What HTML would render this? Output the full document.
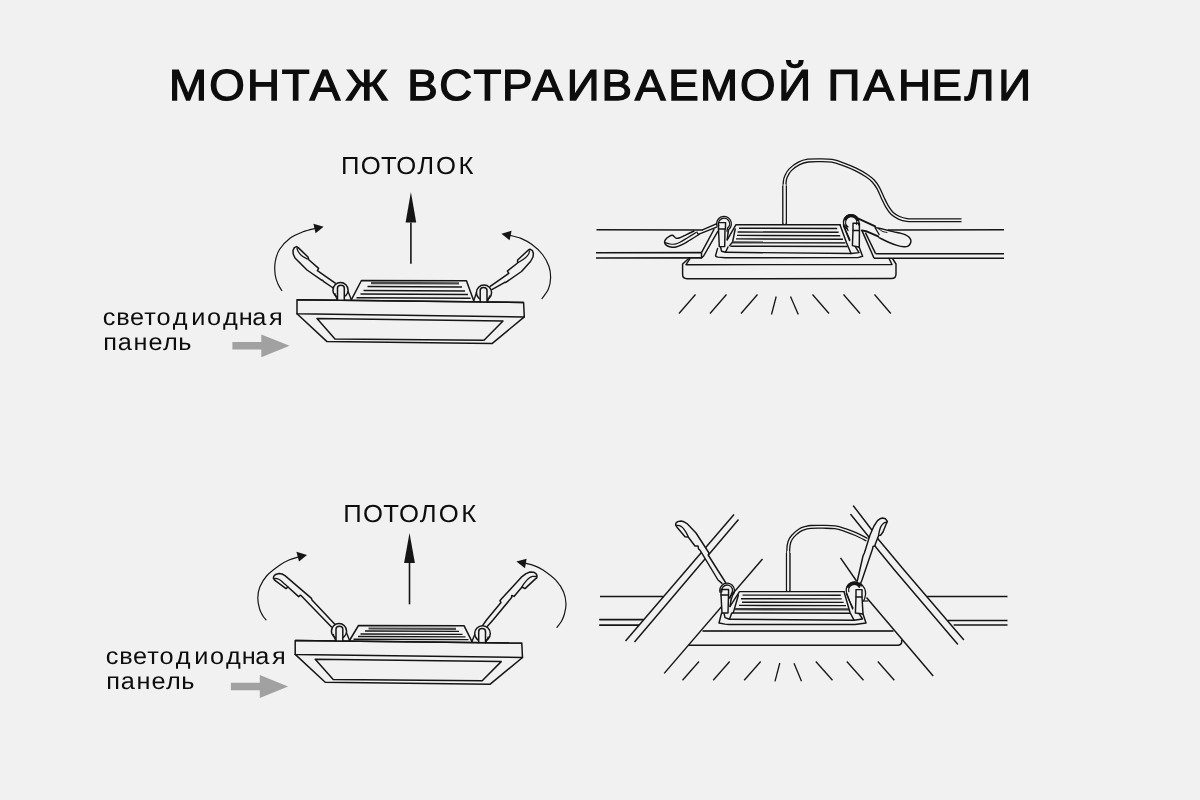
<!DOCTYPE html>
<html lang="ru">
<head>
<meta charset="utf-8">
<title>Монтаж встраиваемой панели</title>
<style>
html,body{margin:0;padding:0;background:#f1f1f1;}
body{width:1200px;height:800px;overflow:hidden;position:relative;font-family:"Liberation Sans",sans-serif;}
svg{position:absolute;left:0;top:0;display:block;will-change:transform;}
text{font-family:"Liberation Sans",sans-serif;fill:#0d0d0d;text-rendering:geometricPrecision;}
path,circle{stroke-linecap:round;stroke-linejoin:round;}
line{stroke-linecap:butt;}
</style>
</head>
<body>
<svg width="1200" height="800" viewBox="0 0 1200 800">
<rect x="0" y="0" width="1200" height="800" fill="#f1f1f1"/>
<g id="labels">

<text transform="scale(1.05,1)" x="161.05 199.33 235.33 268.27 295.06 329.32 369.49 387.83 418.25 450.89 478.00 506.92 539.72 572.95 604.85 636.41 666.76 704.83 741.20 772.47 788.18 822.45 855.28 887.26 918.59 950.70" y="100.2" font-size="43.5" stroke="#0d0d0d" stroke-width="1.35">МОНТАЖ ВСТРАИВАЕМОЙ ПАНЕЛИ</text>
<g transform="scale(1.04,1)">
<text x="327.93 346.79 366.31 380.93 401.16 419.25 440.90" y="173.8" font-size="24.7">ПОТОЛОК</text>
<text x="330.04 349.05 368.42 383.67 403.66 421.79 443.50" y="522.4" font-size="24.7">ПОТОЛОК</text>
</g>
<g transform="scale(1.06,1)">
<text x="97.04 109.62 122.62 136.04 147.60 162.93 180.35 195.24 210.33 225.24 237.89 253.69" y="324.5" font-size="23.9">светодиодная</text>
<text x="97.30 111.01 125.95 140.08 153.70 168.20" y="350" font-size="23.9">панель</text>
<text x="99.87 112.45 125.45 138.87 150.43 165.76 183.18 198.07 213.16 228.07 240.72 256.52" y="663.7" font-size="23.9">светодиодная</text>
<text x="100.13 113.84 128.78 142.91 156.53 171.03" y="689.4" font-size="23.9">панель</text>
</g>
<path d="M232.40,342.10 L261.30,342.10 L261.30,334.40 L289.60,345.80 L261.30,357.20 L261.30,349.60 L232.40,349.60 Z" fill="#a1a1a1" stroke="none"/>
<path d="M230.90,682.80 L259.80,682.80 L259.80,675.10 L288.10,686.50 L259.80,697.90 L259.80,690.30 L230.90,690.30 Z" fill="#a1a1a1" stroke="none"/>

</g>
<g id="diagram-1">
<path d="M333.20,288.00 L323.40,281.40 L322.60,280.30 L321.60,280.20 L307.00,270.00 L295.00,258.00 L293.20,254.00 L293.00,250.50 L294.30,247.60 L296.60,246.60 L298.20,247.60 L308.00,257.00 L308.80,259.80 L318.60,268.40 L317.40,270.60 L335.20,283.20" fill="#f1f1f1" stroke="#151515" stroke-width="1.5" />
<path d="M297.00,248.20 C297.20,248.75 297.45,250.28 298.20,251.50 C298.95,252.72 299.97,254.25 301.50,255.50 C303.03,256.75 306.42,258.42 307.40,259.00" fill="none" stroke="#151515" stroke-width="1.3" />
<path d="M491.80,289.60 L503.50,283.20 L504.60,282.20 L505.80,282.40 L521.50,271.50 L530.50,261.50 L533.00,257.00 L533.40,253.50 L532.40,250.60 L530.00,249.20 L528.40,250.00 L517.60,260.00 L517.60,263.00 L507.40,271.00 L508.80,273.40 L490.20,286.40" fill="#f1f1f1" stroke="#151515" stroke-width="1.5" />
<path d="M529.60,250.80 C529.43,251.33 529.28,252.83 528.60,254.00 C527.92,255.17 527.20,256.40 525.50,257.80 C523.80,259.20 519.58,261.63 518.40,262.40" fill="none" stroke="#151515" stroke-width="1.3" />
<path d="M297.00,313.80 L327.00,341.60 L492.00,343.60 L524.30,316.90" fill="none" stroke="#151515" stroke-width="1.5" />
<path d="M317.00,318.60 L503.00,321.00 L484.00,340.20 L335.00,339.00 Z" fill="none" stroke="#151515" stroke-width="1.5" />
<path d="M297.00,299.80 L523.60,302.50 L524.30,316.90 L297.00,313.80 Z" fill="none" stroke="#151515" stroke-width="1.5" />
<path d="M351.30,299.90 L361.42,280.50 L466.44,280.70 L473.80,301.00" fill="none" stroke="#151515" stroke-width="1.5" />
<line x1="371" y1="283.0" x2="459" y2="283.4" stroke="#4a4a4a" stroke-width="2.3"/>
<line x1="367.5" y1="286.6" x2="462" y2="287.0" stroke="#151515" stroke-width="1.5"/>
<line x1="363.5" y1="290.6" x2="465" y2="291.0" stroke="#151515" stroke-width="1.5"/>
<line x1="360.5" y1="294.1" x2="468" y2="294.5" stroke="#151515" stroke-width="1.5"/>
<line x1="356.5" y1="297.8" x2="470.5" y2="298.2" stroke="#151515" stroke-width="1.5"/>
<line x1="347.2" y1="289.5" x2="351.3" y2="299.6" stroke="#151515" stroke-width="1.4"/>
<line x1="477.6" y1="289.5" x2="473.8" y2="300.6" stroke="#151515" stroke-width="1.4"/>
<path d="M332.9,290.2 a7.6,7.6 0 1 0 15.2,0 a7.6,7.6 0 1 0 -15.2,0" fill="#f1f1f1" stroke="#151515" stroke-width="1.5" />
<path d="M337.50,300.30 L337.50,288.00 Q337.50,285.20 340.90,285.20 Q344.30,285.20 344.30,288.00 L344.30,300.30" fill="#f1f1f1" stroke="#151515" stroke-width="1.5" />
<path d="M334.90,293.40 Q335.90,297.20 337.30,300.30" fill="none" stroke="#151515" stroke-width="1.2" />
<path d="M476.4,292.6 a7.6,7.6 0 1 0 15.2,0 a7.6,7.6 0 1 0 -15.2,0" fill="#f1f1f1" stroke="#151515" stroke-width="1.5" />
<path d="M480.20,302.00 L480.20,290.40 Q480.20,287.60 483.60,287.60 Q487.00,287.60 487.00,290.40 L487.00,302.00" fill="#f1f1f1" stroke="#151515" stroke-width="1.5" />
<path d="M489.60,295.80 Q488.60,299.60 487.20,302.00" fill="none" stroke="#151515" stroke-width="1.2" />
<line x1="297" y1="299.8" x2="523.6" y2="302.5" stroke="#151515" stroke-width="1.5"/>
<path d="M316.00,228.20 C313.83,228.80 307.33,230.13 303.00,231.80 C298.67,233.47 293.92,235.25 290.00,238.20 C286.08,241.15 281.97,245.53 279.50,249.50 C277.03,253.47 275.92,257.75 275.20,262.00 C274.48,266.25 274.73,271.33 275.20,275.00 C275.67,278.67 276.90,281.42 278.00,284.00 C279.10,286.58 281.17,289.42 281.80,290.50" fill="none" stroke="#151515" stroke-width="1.2" />
<path d="M313.40,223.80 L323.60,226.80 L315.60,233.20 Z" fill="#151515" stroke="none"/>
<path d="M509.50,235.20 C511.42,235.73 517.25,236.83 521.00,238.40 C524.75,239.97 528.42,241.92 532.00,244.60 C535.58,247.28 539.67,250.85 542.50,254.50 C545.33,258.15 547.65,262.58 549.00,266.50 C550.35,270.42 550.70,274.25 550.60,278.00 C550.50,281.75 549.83,285.57 548.40,289.00 C546.97,292.43 543.07,297.00 542.00,298.60" fill="none" stroke="#151515" stroke-width="1.2" />
<path d="M501.40,233.70 L511.60,230.80 L509.60,240.20 Z" fill="#151515" stroke="none"/>
<path d="M410.90,192.00 L405.60,222.50 L416.20,222.50 Z" fill="#151515" stroke="none"/><line x1="410.9" y1="222.5" x2="410.9" y2="263.8" stroke="#151515" stroke-width="1.6"/>
</g>
<g id="diagram-2">
<line x1="596.5" y1="229.7" x2="702.5" y2="229.9" stroke="#151515" stroke-width="1.45"/>
<line x1="596" y1="252.7" x2="701.5" y2="252.6" stroke="#151515" stroke-width="1.65"/>
<line x1="596" y1="258" x2="701.5" y2="257.9" stroke="#151515" stroke-width="1.65"/>
<line x1="701.5" y1="252.6" x2="701.5" y2="257.9" stroke="#151515" stroke-width="1.45"/>
<line x1="701.5" y1="252.6" x2="714.2" y2="229" stroke="#151515" stroke-width="1.45"/>
<path d="M701.50,257.90 L703.60,256.00 L717.80,231.40" fill="none" stroke="#151515" stroke-width="1.45" />
<line x1="888" y1="229.9" x2="1004" y2="229.8" stroke="#151515" stroke-width="1.45"/>
<line x1="875.6" y1="253.7" x2="1004" y2="253.7" stroke="#151515" stroke-width="1.65"/>
<line x1="874" y1="258.2" x2="1004" y2="258.2" stroke="#151515" stroke-width="1.65"/>
<line x1="862" y1="230.6" x2="874" y2="258.1" stroke="#151515" stroke-width="1.45"/>
<line x1="865.4" y1="232.6" x2="875.6" y2="253.6" stroke="#151515" stroke-width="1.45"/>
<path d="M784.60,224.00 C784.60,220.00 784.58,207.00 784.60,200.00 C784.62,193.00 784.37,186.10 784.70,182.00 C785.03,177.90 785.65,177.47 786.60,175.40 C787.55,173.33 788.33,171.60 790.40,169.60 C792.47,167.60 796.07,164.90 799.00,163.40 C801.93,161.90 804.50,161.13 808.00,160.60 C811.50,160.07 816.00,160.17 820.00,160.20 C824.00,160.23 828.07,160.10 832.00,160.80 C835.93,161.50 839.67,162.97 843.60,164.40 C847.53,165.83 851.77,167.53 855.60,169.40 C859.43,171.27 863.67,173.67 866.60,175.60 C869.53,177.53 871.27,178.93 873.20,181.00 C875.13,183.07 876.63,185.23 878.20,188.00 C879.77,190.77 881.13,194.53 882.60,197.60 C884.07,200.67 885.43,203.80 887.00,206.40 C888.57,209.00 890.00,211.30 892.00,213.20 C894.00,215.10 896.50,216.67 899.00,217.80 C901.50,218.93 903.83,219.60 907.00,220.00 C910.17,220.40 908.92,220.17 918.00,220.20 C927.08,220.23 954.25,220.20 961.50,220.20" fill="none" stroke="#151515" stroke-width="4.1" style="stroke-linecap:butt"/>
<path d="M784.6,225 L784.6,186" fill="none" stroke="#151515" stroke-width="4.7" style="stroke-linecap:butt"/>
<path d="M784.60,224.00 C784.60,220.00 784.58,207.00 784.60,200.00 C784.62,193.00 784.37,186.10 784.70,182.00 C785.03,177.90 785.65,177.47 786.60,175.40 C787.55,173.33 788.33,171.60 790.40,169.60 C792.47,167.60 796.07,164.90 799.00,163.40 C801.93,161.90 804.50,161.13 808.00,160.60 C811.50,160.07 816.00,160.17 820.00,160.20 C824.00,160.23 828.07,160.10 832.00,160.80 C835.93,161.50 839.67,162.97 843.60,164.40 C847.53,165.83 851.77,167.53 855.60,169.40 C859.43,171.27 863.67,173.67 866.60,175.60 C869.53,177.53 871.27,178.93 873.20,181.00 C875.13,183.07 876.63,185.23 878.20,188.00 C879.77,190.77 881.13,194.53 882.60,197.60 C884.07,200.67 885.43,203.80 887.00,206.40 C888.57,209.00 890.00,211.30 892.00,213.20 C894.00,215.10 896.50,216.67 899.00,217.80 C901.50,218.93 903.83,219.60 907.00,220.00 C910.17,220.40 908.92,220.17 918.00,220.20 C927.08,220.23 954.25,220.20 961.50,220.20" fill="none" stroke="#f1f1f1" stroke-width="1.5" style="stroke-linecap:square"/>
<path d="M784.6,223.4 L784.6,184" fill="none" stroke="#f1f1f1" stroke-width="2.1" style="stroke-linecap:butt"/>
<path d="M694.00,231.00 C692.67,231.63 688.50,233.63 686.00,234.80 C683.50,235.97 680.67,237.43 679.00,238.00 C677.33,238.57 677.08,238.65 676.00,238.20 C674.92,237.75 673.75,235.53 672.50,235.30 C671.25,235.07 669.58,236.18 668.50,236.80 C667.42,237.42 666.65,238.20 666.00,239.00 C665.35,239.80 664.73,240.77 664.60,241.60 C664.47,242.43 664.72,243.27 665.20,244.00 C665.68,244.73 666.37,245.47 667.50,246.00 C668.63,246.53 670.58,247.03 672.00,247.20 C673.42,247.37 674.50,247.33 676.00,247.00 C677.50,246.67 678.67,246.37 681.00,245.20 C683.33,244.03 687.25,241.62 690.00,240.00 C692.75,238.38 696.00,236.47 697.50,235.50 C699.00,234.53 698.75,234.42 699.00,234.20" fill="#f1f1f1" stroke="#151515" stroke-width="1.45" />
<path d="M665.00,242.60 C665.83,242.83 668.33,243.75 670.00,244.00 C671.67,244.25 673.33,244.40 675.00,244.10 C676.67,243.80 677.83,243.32 680.00,242.20 C682.17,241.08 685.33,239.00 688.00,237.40 C690.67,235.80 694.67,233.40 696.00,232.60" fill="none" stroke="#151515" stroke-width="1.2" />
<line x1="696.6" y1="231.6" x2="698.6" y2="235" stroke="#151515" stroke-width="1.2"/>
<path d="M702.50,229.90 L716.30,223.80" fill="none" stroke="#151515" stroke-width="1.45" />
<path d="M699.00,234.20 L716.60,227.20" fill="none" stroke="#151515" stroke-width="1.45" />
<path d="M727.20,239.80 L736.00,224.60 L840.00,224.80" fill="none" stroke="#151515" stroke-width="1.45" />
<path d="M735.20,229.00 L732.60,242.00 L729.60,245.60" fill="none" stroke="#151515" stroke-width="1.45" />
<line x1="739" y1="228.2" x2="837.2" y2="228.5" stroke="#151515" stroke-width="1.4"/>
<line x1="737.6" y1="232" x2="838.6" y2="232.3" stroke="#151515" stroke-width="1.4"/>
<line x1="737" y1="235.4" x2="840.2" y2="235.70000000000002" stroke="#151515" stroke-width="1.4"/>
<line x1="736" y1="238.9" x2="843" y2="239.20000000000002" stroke="#151515" stroke-width="1.4"/>
<line x1="732.6" y1="242.4" x2="845.4" y2="242.70000000000002" stroke="#3c3c3c" stroke-width="2.2"/>
<line x1="730.4" y1="246.2" x2="847.6" y2="246.5" stroke="#151515" stroke-width="1.4"/>
<path d="M840.00,224.80 L846.60,243.00 L848.00,246.20 L851.00,253.50" fill="none" stroke="#151515" stroke-width="1.45" />
<path d="M843.60,226.00 L849.60,240.60" fill="none" stroke="#151515" stroke-width="1.45" />
<path d="M725.5,252.3 L851,253.5" fill="none" stroke="#151515" stroke-width="1.45" />
<path d="M717.6,248.4 L715.6,255.4 Q715.6,256.8 718,257.1 L725,257.7 L858,257.6 L862.6,256.3 L859.2,247.2" fill="none" stroke="#151515" stroke-width="1.45" />
<path d="M720.50,246.80 L721.60,251.20 L725.50,252.30 L728.00,247.00" fill="none" stroke="#151515" stroke-width="1.45" />
<path d="M855.00,246.20 L859.00,252.60 L851.00,253.50" fill="none" stroke="#151515" stroke-width="1.45" />
<path d="M718.50,229.00 L719.30,246.60 L724.70,246.60 L725.00,229.00" fill="#f1f1f1" stroke="#151515" stroke-width="1.45" />
<path d="M725.40,229.00 L718.50,229.00 L718.50,222.60 L725.60,222.60 Z" fill="#f1f1f1" stroke="#151515" stroke-width="1.45" />
<path d="M717.05,226.33 A7.4,7.4 0 1 1 728.76,229.47 L728.00,233.00" fill="none" stroke="#151515" stroke-width="1.3" />
<path d="M718.74,225.72 A5.6,5.6 0 1 1 727.60,228.09 L727.00,231.40" fill="none" stroke="#151515" stroke-width="1.3" />
<path d="M728.00,233.00 L727.20,239.80" fill="none" stroke="#151515" stroke-width="1.45" />
<path d="M853.00,230.40 L852.40,245.60 L859.30,247.20 L859.40,230.40" fill="#f1f1f1" stroke="#151515" stroke-width="1.45" />
<path d="M853.00,230.40 L859.40,230.40 L859.40,223.20 L853.00,223.20 Z" fill="#f1f1f1" stroke="#151515" stroke-width="1.45" />
<path d="M846.75,228.65 A7.75,7.75 0 1 1 858.48,224.95" fill="none" stroke="#151515" stroke-width="1.3" />
<path d="M847.99,226.89 A5.6,5.6 0 1 1 856.46,224.22" fill="none" stroke="#151515" stroke-width="1.3" />
<path d="M845,219.3 A6.7,6.7 0 0 1 857.4,219.7" fill="none" stroke="#151515" stroke-width="2.6"/>
<path d="M843.40,224.60 L846.00,231.00 L849.80,239.60" fill="none" stroke="#151515" stroke-width="1.3" />
<path d="M845.60,225.00 L848.00,230.60" fill="none" stroke="#151515" stroke-width="1.3" />
<path d="M876.00,227.60 C877.33,227.90 881.17,228.73 884.00,229.40 C886.83,230.07 890.17,230.93 893.00,231.60 C895.83,232.27 899.00,232.90 901.00,233.40 C903.00,233.90 903.73,234.03 905.00,234.60 C906.27,235.17 907.63,235.90 908.60,236.80 C909.57,237.70 910.50,238.90 910.80,240.00 C911.10,241.10 910.87,242.37 910.40,243.40 C909.93,244.43 909.07,245.63 908.00,246.20 C906.93,246.77 905.83,246.93 904.00,246.80 C902.17,246.67 899.67,246.20 897.00,245.40 C894.33,244.60 891.00,243.30 888.00,242.00 C885.00,240.70 880.50,238.33 879.00,237.60" fill="#f1f1f1" stroke="#151515" stroke-width="1.45" />
<path d="M858.40,218.60 L875.20,226.40" fill="none" stroke="#151515" stroke-width="1.9" />
<path d="M861.80,230.40 L866.00,231.20 L878.20,236.40" fill="none" stroke="#151515" stroke-width="1.9" />
<path d="M875.00,227.60 L879.20,234.60" fill="none" stroke="#151515" stroke-width="1.2" />
<path d="M878.60,229.00 C879.33,229.43 881.60,231.03 883.00,231.60 C884.40,232.17 886.33,232.27 887.00,232.40" fill="none" stroke="#151515" stroke-width="1.0" />
<path d="M689,258.2 L682.6,264 L682.6,274.6 Q682.6,278.8 687,278.8 L891.6,278.5 Q896,278.5 896,274 L896,264 L892.8,259" fill="none" stroke="#151515" stroke-width="1.45" />
<path d="M690.00,258.60 L686.00,264.70 L892.00,264.50 L889.00,258.50" fill="none" stroke="#151515" stroke-width="1.45" />
<line x1="695.5" y1="294.5" x2="679" y2="313.5" stroke="#151515" stroke-width="1.3"/>
<line x1="726.5" y1="294.5" x2="710" y2="313.5" stroke="#151515" stroke-width="1.3"/>
<line x1="757.5" y1="294.5" x2="741" y2="313.5" stroke="#151515" stroke-width="1.3"/>
<line x1="776.2" y1="296.5" x2="771.5" y2="314.5" stroke="#151515" stroke-width="1.3"/>
<line x1="790.5" y1="296.5" x2="798.3" y2="314.5" stroke="#151515" stroke-width="1.3"/>
<line x1="812.5" y1="294.5" x2="829" y2="313.5" stroke="#151515" stroke-width="1.3"/>
<line x1="843.5" y1="294.5" x2="860" y2="313.5" stroke="#151515" stroke-width="1.3"/>
<line x1="874.5" y1="294.5" x2="890.8" y2="313.5" stroke="#151515" stroke-width="1.3"/>
</g>
<g id="diagram-3">
<path d="M331.50,627.00 L301.00,595.60 L300.40,595.20 L298.60,596.60 L288.00,587.00 L286.00,588.60 L274.60,580.20 L273.40,578.40 L273.80,576.20 L275.60,574.40 L279.00,573.50 L282.00,574.00 L285.00,575.60 L311.50,598.40 L312.00,600.00 L334.60,624.00" fill="#f1f1f1" stroke="#151515" stroke-width="1.5" />
<path d="M274.40,578.60 C274.83,578.60 276.00,578.33 277.00,578.60 C278.00,578.87 279.23,579.40 280.40,580.20 C281.57,581.00 282.73,582.27 284.00,583.40 C285.27,584.53 287.33,586.40 288.00,587.00" fill="none" stroke="#151515" stroke-width="1.3" />
<path d="M487.20,626.60 L493.00,620.00 L511.60,597.60 L511.80,595.40 L514.00,596.40 L522.00,587.00 L525.00,588.60 L534.60,579.60 L536.80,577.80 L537.00,575.60 L536.00,573.60 L533.60,572.20 L530.00,572.00 L526.00,573.60 L522.00,576.60 L500.00,600.60 L501.00,602.60 L486.50,620.00 L482.00,626.40" fill="#f1f1f1" stroke="#151515" stroke-width="1.5" />
<path d="M536.40,576.60 C535.73,576.57 533.70,576.07 532.40,576.40 C531.10,576.73 529.87,577.57 528.60,578.60 C527.33,579.63 525.90,581.27 524.80,582.60 C523.70,583.93 522.47,585.93 522.00,586.60" fill="none" stroke="#151515" stroke-width="1.3" />
<path d="M295.20,654.40 L325.20,682.20 L490.20,684.20 L522.50,657.50" fill="none" stroke="#151515" stroke-width="1.5" />
<path d="M315.20,659.20 L501.20,661.60 L482.20,680.80 L333.20,679.60 Z" fill="none" stroke="#151515" stroke-width="1.5" />
<path d="M295.20,640.40 L521.80,643.10 L522.50,657.50 L295.20,654.40 Z" fill="none" stroke="#151515" stroke-width="1.5" />
<path d="M349.50,640.50 L358.50,625.50 L464.00,625.70 L472.00,641.60" fill="none" stroke="#151515" stroke-width="1.5" />
<line x1="368.5" y1="628.5" x2="456.0" y2="628.9" stroke="#4a4a4a" stroke-width="2.1"/>
<line x1="365.0" y1="631.0" x2="459.0" y2="631.4" stroke="#151515" stroke-width="1.4"/>
<line x1="360.5" y1="634.0" x2="462.5" y2="634.4" stroke="#151515" stroke-width="1.4"/>
<line x1="358.0" y1="636.5" x2="465.5" y2="636.9" stroke="#151515" stroke-width="1.4"/>
<line x1="353.5" y1="639.2" x2="468.5" y2="639.6" stroke="#151515" stroke-width="1.4"/>
<line x1="345.4" y1="630" x2="349.5" y2="640.3" stroke="#151515" stroke-width="1.4"/>
<line x1="476" y1="631" x2="472" y2="641.4" stroke="#151515" stroke-width="1.4"/>
<path d="M331.4,631.2 a7.6,7.6 0 1 0 15.2,0 a7.6,7.6 0 1 0 -15.2,0" fill="#f1f1f1" stroke="#151515" stroke-width="1.5" />
<path d="M336.00,640.90 L336.00,629.00 Q336.00,626.20 339.40,626.20 Q342.80,626.20 342.80,629.00 L342.80,640.90" fill="#f1f1f1" stroke="#151515" stroke-width="1.5" />
<path d="M333.40,634.40 Q334.40,638.20 335.80,640.90" fill="none" stroke="#151515" stroke-width="1.2" />
<path d="M474.7,633.6 a7.8,7.8 0 1 0 15.6,0 a7.8,7.8 0 1 0 -15.6,0" fill="#f1f1f1" stroke="#151515" stroke-width="1.5" />
<path d="M478.70,642.70 L478.70,631.40 Q478.70,628.60 482.10,628.60 Q485.50,628.60 485.50,631.40 L485.50,642.70" fill="#f1f1f1" stroke="#151515" stroke-width="1.5" />
<path d="M488.10,636.80 Q487.10,640.60 485.70,642.70" fill="none" stroke="#151515" stroke-width="1.2" />
<line x1="295.2" y1="640.4000000000001" x2="521.8000000000001" y2="643.1" stroke="#151515" stroke-width="1.5"/>
<path d="M299.00,556.80 C297.33,557.33 292.17,558.63 289.00,560.00 C285.83,561.37 283.67,562.42 280.00,565.00 C276.33,567.58 270.37,571.83 267.00,575.50 C263.63,579.17 261.33,583.25 259.80,587.00 C258.27,590.75 257.83,594.33 257.80,598.00 C257.77,601.67 258.73,606.00 259.60,609.00 C260.47,612.00 261.93,614.20 263.00,616.00 C264.07,617.80 265.50,619.17 266.00,619.80" fill="none" stroke="#151515" stroke-width="1.2" />
<path d="M296.40,551.80 L307.00,555.00 L299.00,561.60 Z" fill="#151515" stroke="none"/>
<path d="M525.40,563.20 C526.83,563.60 531.07,564.47 534.00,565.60 C536.93,566.73 539.33,567.53 543.00,570.00 C546.67,572.47 552.57,576.73 556.00,580.40 C559.43,584.07 561.93,588.07 563.60,592.00 C565.27,595.93 565.87,600.33 566.00,604.00 C566.13,607.67 565.13,611.17 564.40,614.00 C563.67,616.83 562.83,618.77 561.60,621.00 C560.37,623.23 557.77,626.33 557.00,627.40" fill="none" stroke="#151515" stroke-width="1.2" />
<path d="M516.40,561.60 L526.60,558.80 L525.00,568.20 Z" fill="#151515" stroke="none"/>
<path d="M409.50,533.10 L404.10,562.90 L414.90,562.90 Z" fill="#151515" stroke="none"/><line x1="409.5" y1="562.9" x2="409.5" y2="604.3" stroke="#151515" stroke-width="1.6"/>
</g>
<g id="diagram-4">
<line x1="600" y1="596.5" x2="663.4" y2="596.5" stroke="#151515" stroke-width="1.45"/>
<line x1="599.2" y1="619.7" x2="643.6" y2="619.7" stroke="#151515" stroke-width="1.75"/>
<line x1="599.2" y1="625" x2="639.2" y2="625" stroke="#151515" stroke-width="1.75"/>
<line x1="734" y1="514.5" x2="625.5" y2="641" stroke="#151515" stroke-width="1.45"/>
<line x1="738.5" y1="519.5" x2="634.5" y2="642" stroke="#151515" stroke-width="1.45"/>
<line x1="762.5" y1="559" x2="664.2" y2="673.4" stroke="#151515" stroke-width="1.45"/>
<line x1="927.2" y1="596.5" x2="1007.5" y2="596.5" stroke="#151515" stroke-width="1.45"/>
<line x1="948" y1="620.5" x2="1007.5" y2="620.5" stroke="#151515" stroke-width="1.55"/>
<line x1="953.6" y1="625" x2="1007.5" y2="625" stroke="#151515" stroke-width="1.55"/>
<path d="M853.50,506.00 L871.50,529.50 L878.50,539.50 L904.00,570.00 L963.50,639.50" fill="none" stroke="#151515" stroke-width="1.45" />
<path d="M850.80,514.50 L868.50,536.50 L876.50,548.00 L894.50,570.00 L957.50,644.00" fill="none" stroke="#151515" stroke-width="1.45" />
<line x1="840.5" y1="557.8" x2="856.5" y2="581" stroke="#151515" stroke-width="1.45"/>
<line x1="866.5" y1="597.5" x2="933.2" y2="676" stroke="#151515" stroke-width="1.45"/>
<line x1="863.2" y1="601" x2="868.4" y2="601" stroke="#151515" stroke-width="1.2"/>
<path d="M788.20,591.50 C788.20,587.08 788.18,572.08 788.20,565.00 C788.22,557.92 788.10,552.83 788.30,549.00 C788.50,545.17 788.65,544.13 789.40,542.00 C790.15,539.87 791.07,538.17 792.80,536.20 C794.53,534.23 797.60,531.60 799.80,530.20 C802.00,528.80 804.13,528.35 806.00,527.80 C807.87,527.25 808.17,527.07 811.00,526.90 C813.83,526.73 819.00,526.73 823.00,526.80 C827.00,526.87 831.33,526.77 835.00,527.30 C838.67,527.83 841.50,528.85 845.00,530.00 C848.50,531.15 852.33,532.60 856.00,534.20 C859.67,535.80 865.17,538.70 867.00,539.60" fill="none" stroke="#151515" stroke-width="4.1" style="stroke-linecap:butt"/>
<path d="M788.2,592 L788.2,553" fill="none" stroke="#151515" stroke-width="4.7" style="stroke-linecap:butt"/>
<path d="M788.20,591.50 C788.20,587.08 788.18,572.08 788.20,565.00 C788.22,557.92 788.10,552.83 788.30,549.00 C788.50,545.17 788.65,544.13 789.40,542.00 C790.15,539.87 791.07,538.17 792.80,536.20 C794.53,534.23 797.60,531.60 799.80,530.20 C802.00,528.80 804.13,528.35 806.00,527.80 C807.87,527.25 808.17,527.07 811.00,526.90 C813.83,526.73 819.00,526.73 823.00,526.80 C827.00,526.87 831.33,526.77 835.00,527.30 C838.67,527.83 841.50,528.85 845.00,530.00 C848.50,531.15 852.33,532.60 856.00,534.20 C859.67,535.80 865.17,538.70 867.00,539.60" fill="none" stroke="#f1f1f1" stroke-width="1.5" style="stroke-linecap:square"/>
<path d="M788.2,590.6 L788.2,551" fill="none" stroke="#f1f1f1" stroke-width="2.1" style="stroke-linecap:butt"/>
<path d="M730.00,606.40 L739.50,591.60 L844.00,591.60" fill="none" stroke="#151515" stroke-width="1.45" />
<path d="M738.40,595.00 L733.40,612.40 L731.50,613.50" fill="none" stroke="#151515" stroke-width="1.45" />
<line x1="742.5" y1="595.1" x2="840.8" y2="595.3000000000001" stroke="#151515" stroke-width="1.4"/>
<line x1="741" y1="598.7" x2="841.8" y2="598.9000000000001" stroke="#151515" stroke-width="1.4"/>
<line x1="742" y1="602.2" x2="843.6" y2="602.4000000000001" stroke="#151515" stroke-width="1.4"/>
<line x1="739" y1="605.4" x2="846" y2="605.6" stroke="#151515" stroke-width="1.4"/>
<line x1="735" y1="609.2" x2="849" y2="609.4000000000001" stroke="#3c3c3c" stroke-width="2.3000000000000003"/>
<line x1="733" y1="613" x2="850.4" y2="613.2" stroke="#151515" stroke-width="1.4"/>
<path d="M844.00,591.60 L850.00,612.50 L854.00,620.20" fill="none" stroke="#151515" stroke-width="1.45" />
<path d="M846.60,593.00 L852.60,609.00" fill="none" stroke="#151515" stroke-width="1.3" />
<path d="M729.5,619.2 L854,620.2" fill="none" stroke="#151515" stroke-width="1.45" />
<path d="M721.6,613 L719,623 L725,624.1 L729,624.5 L855,624.5 L866,623 L863,614" fill="none" stroke="#151515" stroke-width="1.45" />
<path d="M724.00,613.20 L725.00,617.60 L729.50,619.20 L731.60,613.40" fill="none" stroke="#151515" stroke-width="1.45" />
<path d="M858.50,612.60 L862.50,619.00 L854.00,620.20" fill="none" stroke="#151515" stroke-width="1.45" />
<path d="M722.00,583.40 L718.00,580.00 L712.00,570.00 L700.00,550.20 L698.60,549.00 L698.00,546.00 L695.00,546.00 L688.20,537.00 L685.00,536.80 L677.00,527.20 L675.60,525.00 L676.00,523.00 L677.60,521.60 L681.00,521.00 L684.00,521.80 L687.00,523.60 L696.00,533.00 L709.00,553.00 L708.20,555.00 L717.60,570.00 L724.00,580.00 L725.60,582.60" fill="#f1f1f1" stroke="#151515" stroke-width="1.45" />
<path d="M676.60,525.40 C677.07,525.43 678.43,525.27 679.40,525.60 C680.37,525.93 681.37,526.40 682.40,527.40 C683.43,528.40 684.63,530.07 685.60,531.60 C686.57,533.13 687.77,535.77 688.20,536.60" fill="none" stroke="#151515" stroke-width="1.3" />
<path d="M857.00,581.60 L857.50,580.00 L863.00,556.00 L863.60,554.60 L864.40,553.00 L870.00,535.00 L874.00,526.00 L877.50,520.60 L880.00,518.80 L882.50,518.00 L885.40,518.80 L887.40,521.40 L886.00,524.40 L883.00,532.00 L880.60,535.20 L878.60,535.60 L874.60,546.00 L873.00,546.40 L872.60,548.80 L862.00,580.00 L860.60,583.60" fill="#f1f1f1" stroke="#151515" stroke-width="1.45" />
<path d="M887.00,522.00 C886.43,522.20 884.60,522.47 883.60,523.20 C882.60,523.93 881.70,525.10 881.00,526.40 C880.30,527.70 879.80,529.53 879.40,531.00 C879.00,532.47 878.73,534.50 878.60,535.20" fill="none" stroke="#151515" stroke-width="1.3" />
<path d="M721.00,595.00 L722.00,613.00 L728.00,613.00 L728.50,595.00" fill="#f1f1f1" stroke="#151515" stroke-width="1.45" />
<path d="M728.50,595.00 L721.00,595.00 L721.00,589.50 L728.60,589.50 Z" fill="#f1f1f1" stroke="#151515" stroke-width="1.45" />
<path d="M720.05,592.39 A7.3,7.3 0 1 1 732.69,595.19 L731.00,600.00" fill="none" stroke="#151515" stroke-width="1.3" />
<path d="M721.79,591.92 A5.5,5.5 0 1 1 731.31,594.04 L730.00,598.40" fill="none" stroke="#151515" stroke-width="1.3" />
<path d="M731.00,600.00 L730.00,606.40" fill="none" stroke="#151515" stroke-width="1.45" />
<path d="M856.00,597.00 L855.40,613.00 L863.00,614.00 L862.00,597.00" fill="#f1f1f1" stroke="#151515" stroke-width="1.45" />
<path d="M856.00,597.00 L862.00,597.00 L862.00,589.60 L856.00,589.60 Z" fill="#f1f1f1" stroke="#151515" stroke-width="1.45" />
<path d="M846.38,592.35 A8.3,8.3 0 0 1 861.59,586.05" fill="none" stroke="#151515" stroke-width="1.3" />
<path d="M848.80,591.70 A5.8,5.8 0 0 1 859.42,587.30" fill="none" stroke="#151515" stroke-width="1.3" />
<path d="M848,586.6 A7.1,7.1 0 0 1 859.6,585.4" fill="none" stroke="#151515" stroke-width="2.6"/>
<path d="M860,583 Q866,588 865.6,594 Q865.2,598 863.6,601" fill="none" stroke="#151515" stroke-width="1.3" />
<path d="M846.40,593.40 L849.40,601.00 L853.00,608.00" fill="none" stroke="#151515" stroke-width="1.3" />
<line x1="702.5" y1="631" x2="893.5" y2="631" stroke="#3c3c3c" stroke-width="2.1"/>
<path d="M689,645.3 L897.6,645.3 Q901.4,645.3 901.8,641.6 L901.6,640.4" fill="none" stroke="#151515" stroke-width="1.45" />
<line x1="699" y1="661.5" x2="682.5" y2="680.3" stroke="#151515" stroke-width="1.3"/>
<line x1="729.7" y1="661.5" x2="713.2" y2="680.3" stroke="#151515" stroke-width="1.3"/>
<line x1="760.7" y1="661.5" x2="744.2" y2="680.3" stroke="#151515" stroke-width="1.3"/>
<line x1="779.8" y1="663" x2="775" y2="681.3" stroke="#151515" stroke-width="1.3"/>
<line x1="794" y1="663.3" x2="801.5" y2="681.3" stroke="#151515" stroke-width="1.3"/>
<line x1="815.8" y1="661.5" x2="832.5" y2="680.3" stroke="#151515" stroke-width="1.3"/>
<line x1="846.8" y1="661.5" x2="863.5" y2="680.3" stroke="#151515" stroke-width="1.3"/>
<line x1="877.8" y1="661.5" x2="894.3" y2="680.3" stroke="#151515" stroke-width="1.3"/>
</g>
</svg>
</body>
</html>
